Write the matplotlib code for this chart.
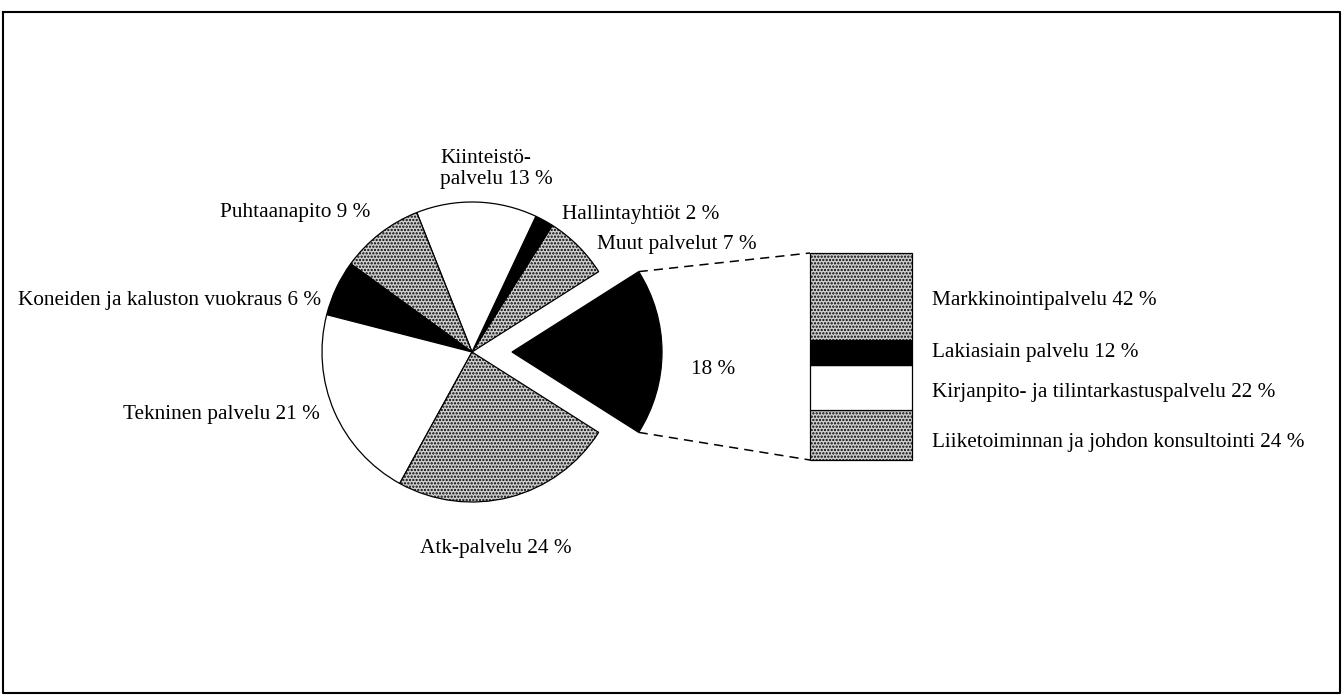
import matplotlib
matplotlib.use("Agg")
import matplotlib.pyplot as plt
import numpy as np

# pie slices, counterclockwise starting from the exploded one
pie_labels = ["Muu liike-elämän palvelu", "Muut palvelut 7 %", "Hallintayhtiöt 2 %",
              "Kiinteistö-\npalvelu 13 %", "Puhtaanapito 9 %",
              "Koneiden ja kaluston vuokraus 6 %", "Tekninen palvelu 21 %",
              "Atk-palvelu 24 %"]
pie_values = [18, 7, 2, 13, 9, 6, 21, 24]
pie_styles = ["black", "dot", "black", "white", "dot", "black", "white", "dot"]

# breakdown of the 18 % slice (bottom to top)
bar_labels = ["Liiketoiminnan ja johdon konsultointi 24 %",
              "Kirjanpito- ja tilintarkastuspalvelu 22 %",
              "Lakiasiain palvelu 12 %",
              "Markkinointipalvelu 42 %"]
bar_values = [24, 22, 12, 42]
bar_styles = ["dot", "white", "black", "dot"]

plt.rcParams["font.family"] = ["Liberation Serif", "DejaVu Serif"]
plt.rcParams["hatch.linewidth"] = 1.1
plt.rcParams["hatch.color"] = "#2a2a2a"

W, H = 1344, 696
fig = plt.figure(figsize=(W / 100, H / 100), dpi=100)
ax = fig.add_axes([0, 0, 1, 1])

def style(patch, s):
    patch.set_edgecolor("black")
    patch.set_linewidth(0.9)
    if s == "black":
        patch.set_facecolor("black")
    elif s == "white":
        patch.set_facecolor("white")
    else:
        patch.set_facecolor("#cfcfcf")
        patch.set_hatch(".....")

cx, cy, r = 472, H - 352, 150
explode = [40] + [0] * (len(pie_values) - 1)   # pie explode is in data units here
wedges, _ = ax.pie(pie_values, startangle=-32.4, counterclock=True, center=(cx, cy),
                   radius=r, explode=explode, frame=True)
for w, s in zip(wedges, pie_styles):
    style(w, s)

# stacked bar
bx, bw = 861, 102
btop, bbot = H - 253, H - 460
scale = (btop - bbot) / sum(bar_values)
bottom = bbot
for v, s in zip(bar_values, bar_styles):
    b = ax.bar(bx, v * scale, width=bw, bottom=bottom)[0]
    style(b, s)
    bottom += v * scale

# connecting dashed lines
w0 = wedges[0]
wx, wy = w0.center
for th, yb in [(w0.theta2, btop), (w0.theta1, bbot)]:
    px = wx + r * np.cos(np.radians(th))
    py = wy + r * np.sin(np.radians(th))
    ax.plot([px, bx - bw / 2], [py, yb], color="black", lw=1.1, ls=(0, (6, 4)))

fs = 15.3
ax.text(440, H - 169, pie_labels[3], fontsize=fs, ha="left", va="center", linespacing=1.15)
ax.text(562, H - 215, pie_labels[2], fontsize=fs, ha="left", va="center")
ax.text(597, H - 244, pie_labels[1], fontsize=fs, ha="left", va="center")
ax.text(370, H - 213, pie_labels[4], fontsize=fs, ha="right", va="center")
ax.text(321, H - 300, pie_labels[5], fontsize=fs, ha="right", va="center")
ax.text(320, H - 414, pie_labels[6], fontsize=fs, ha="right", va="center")
ax.text(496, H - 549, pie_labels[7], fontsize=fs, ha="center", va="center")
ax.text(713, H - 369, f"{pie_values[0]} %", fontsize=fs, ha="center", va="center")

label_y = [443, 393, 353, 301]
for lab, ly in zip(bar_labels, label_y):
    ax.text(932, H - ly, lab, fontsize=fs, ha="left", va="center")

# frame
ax.plot([3, 1340, 1340, 3, 3], [H - 12, H - 12, H - 693, H - 693, H - 12],
        color="black", lw=1.5)

ax.set_xlim(0, W)
ax.set_ylim(0, H)
ax.set_aspect("auto")
ax.axis("off")
fig.savefig("out.png", dpi=100)
